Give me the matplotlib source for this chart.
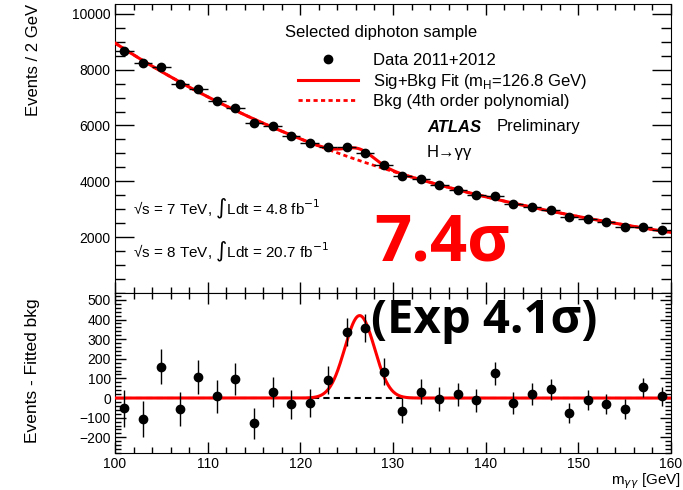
import numpy as np
import matplotlib.pyplot as plt
from matplotlib.ticker import MultipleLocator
from matplotlib.lines import Line2D

plt.rcParams['font.family'] = ['Liberation Sans', 'DejaVu Sans']

# bin centres (GeV) and events per 2 GeV
mass = [101, 103, 105, 107, 109, 111, 113, 115, 117, 119,
        121, 123, 125, 127, 129, 131, 133, 135, 137, 139,
        141, 143, 145, 147, 149, 151, 153, 155, 157, 159]
events = [8680, 8225, 8085, 7500, 7310, 6870, 6630, 6095, 5965, 5620,
          5370, 5225, 5225, 5025, 4585, 4180, 4085, 3860, 3700, 3525,
          3475, 3190, 3070, 2965, 2715, 2655, 2525, 2380, 2380, 2250]
# background curve under each bin
bkg_fit = [8735, 8330, 7930, 7560, 7205, 6862, 6535, 6225, 5932, 5652,
           5393, 5140, 4900, 4672, 4455, 4250, 4055, 3870, 3695, 3528,
           3370, 3218, 3072, 2933, 2800, 2673, 2552, 2437, 2328, 2225]
# events minus fitted background (lower panel)
residual = [-53, -107, 160, -56, 108, 8, 98, -129, 32, -32,
            -25, 93, 335, 358, 135, -64, 32, -4, 18, -12,
            125, -24, 22, 45, -76, -10, -29, -56, 54, 8]
stat_err = [93, 91, 90, 87, 85, 83, 81, 78, 77, 75,
            73, 72, 72, 71, 68, 65, 64, 62, 61, 59,
            59, 56, 55, 54, 52, 51, 50, 49, 49, 47]

# signal peak seen in the fit
sig_mass = 126.4
sig_width = 1.6
sig_height = 420

x = np.linspace(100, 160, 1201)
bkg_curve = np.polyval(np.polyfit(mass, bkg_fit, 4), x)
sig_curve = sig_height * np.exp(-0.5 * ((x - sig_mass) / sig_width) ** 2)

fig = plt.figure(figsize=(6.83, 4.90), dpi=100)
W, H = 683, 490
ax1 = fig.add_axes([115 / W, 1 - 293 / H, 556 / W, 289 / H])
ax2 = fig.add_axes([115 / W, 1 - 453 / H, 556 / W, 160 / H])

# upper panel
ax1.plot(x, bkg_curve, color='red', lw=2, ls=(0, (1.5, 1.2)), zorder=2)
ax1.plot(x, bkg_curve + sig_curve, color='red', lw=2.2, zorder=3)
ax1.errorbar(mass, events, xerr=1, yerr=stat_err, fmt='o', color='black',
             ms=6, elinewidth=1, capsize=0, zorder=4)
ax1.set_xlim(100, 160)
ax1.set_ylim(0, 10350)
ax1.set_yticks(range(2000, 10001, 2000))
ax1.yaxis.set_minor_locator(MultipleLocator(500))
ax1.xaxis.set_major_locator(MultipleLocator(10))
ax1.xaxis.set_minor_locator(MultipleLocator(2))
ax1.tick_params(which='both', direction='in', top=True, right=True,
                labelbottom=False, labelsize=10, width=1)
ax1.tick_params(axis='y', which='major', length=14)
ax1.tick_params(axis='y', which='minor', length=7)
ax1.tick_params(axis='x', which='major', length=8)
ax1.tick_params(axis='x', which='minor', length=4)

handles = [Line2D([], [], ls='none', marker='o', color='black', ms=6),
           Line2D([], [], color='red', lw=2.2),
           Line2D([], [], color='red', lw=2, ls=(0, (1.5, 1.2)))]
labels = ['Data 2011+2012',
          r'Sig+Bkg Fit (m$_\mathregular{H}$=126.8 GeV)',
          'Bkg (4th order polynomial)']
ax1.legend(handles, labels, loc='upper left', bbox_to_anchor=(298 / W, 1 - 53 / H),
           bbox_transform=fig.transFigure, frameon=False, fontsize=12,
           borderpad=0, borderaxespad=0, handlelength=3.6, handletextpad=0.9,
           labelspacing=0.22)

fig.text(285 / W, 1 - 32 / H, 'Selected diphoton sample', fontsize=12, va='center')
fig.text(427 / W, 1 - 127 / H, 'ATLAS', fontsize=12, va='center',
         fontweight='bold', fontstyle='italic')
fig.text(497 / W, 1 - 127 / H, 'Preliminary', fontsize=12, va='center')
fig.text(427 / W, 1 - 152 / H, 'H→γγ', fontsize=12, va='center')
fig.text(133 / W, 1 - 209 / H, r'√s = 7 TeV, $\int$Ldt = 4.8 fb$^{-1}$',
         fontsize=11, va='center')
fig.text(133 / W, 1 - 252 / H, r'√s = 8 TeV, $\int$Ldt = 20.7 fb$^{-1}$',
         fontsize=11, va='center')

# lower panel
ax2.axhline(0, color='black', lw=1.5, ls=(0, (3, 2)), zorder=2)
ax2.plot(x, sig_curve, color='red', lw=2.2, zorder=3)
ax2.errorbar(mass, residual, yerr=stat_err, fmt='o', color='black',
             ms=6, elinewidth=1, capsize=0, zorder=4)
ax2.set_xlim(100, 160)
ax2.set_ylim(-280, 535)
ax2.set_yticks(range(-200, 501, 100))
ax2.yaxis.set_minor_locator(MultipleLocator(20))
ax2.xaxis.set_major_locator(MultipleLocator(10))
ax2.xaxis.set_minor_locator(MultipleLocator(2))
ax2.tick_params(which='both', direction='in', top=True, right=True,
                labelsize=10, width=1, pad=3)
ax2.tick_params(axis='y', which='major', length=8)
ax2.tick_params(axis='y', which='minor', length=4)
ax2.tick_params(axis='x', which='major', length=8)
ax2.tick_params(axis='x', which='minor', length=4)

fig.text(33 / W, 1 - 4 / H, 'Events / 2 GeV', rotation=90, fontsize=12,
         ha='center', va='top')
fig.text(33 / W, 1 - 298 / H, 'Events - Fitted bkg', rotation=90, fontsize=12.5,
         ha='center', va='top')
fig.text(681 / W, 1 - 481 / H, r'm$_{\gamma\gamma}$ [GeV]', fontsize=11,
         ha='right', va='center')

# significance annotations
fig.text(442 / W, 1 - 260 / H, '7.4σ', color='red', fontsize=47,
         fontweight='bold', family=['Open Sans', 'DejaVu Sans'],
         ha='center', va='baseline', zorder=10)
fig.text(484 / W, 1 - 333 / H, '(Exp 4.1σ)', color='black', fontsize=34,
         fontweight='bold', family=['Open Sans', 'DejaVu Sans'],
         ha='center', va='baseline', zorder=10)

fig.savefig('out.png', dpi=100)
